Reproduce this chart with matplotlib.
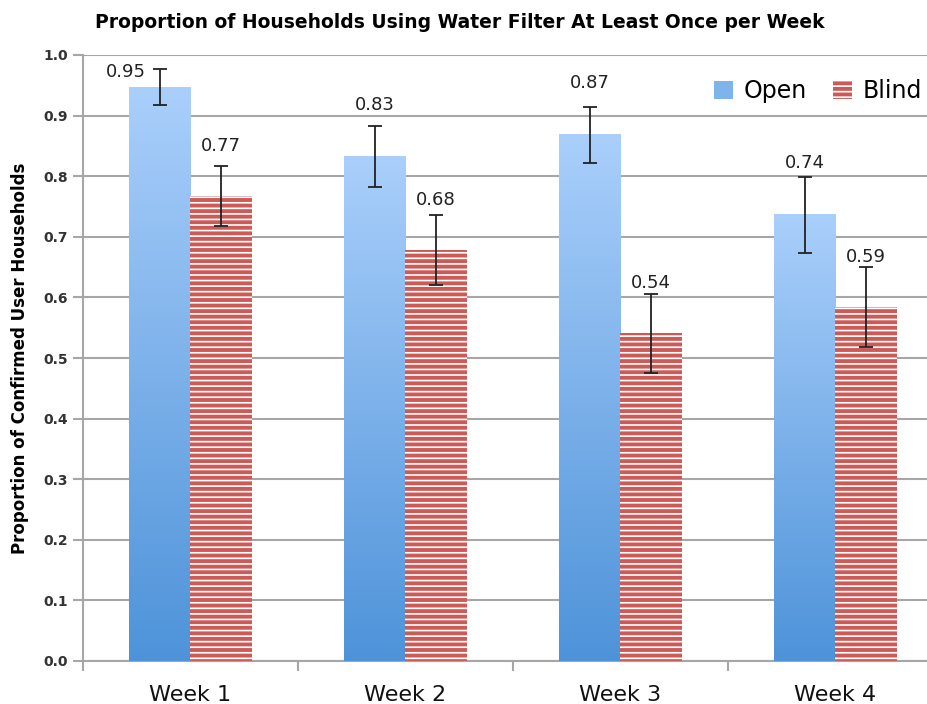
import numpy as np
import matplotlib
matplotlib.use("Agg")
import matplotlib.pyplot as plt
from matplotlib.colors import LinearSegmentedColormap
from matplotlib.patches import Patch

# Dati
weeks = ["Week 1", "Week 2", "Week 3", "Week 4"]
open_values = [0.947, 0.833, 0.868, 0.736]
blind_values = [0.767, 0.678, 0.541, 0.584]
open_errors = [0.030, 0.050, 0.046, 0.062]
blind_errors = [0.050, 0.058, 0.065, 0.066]
open_labels = ["0.95", "0.83", "0.87", "0.74"]
blind_labels = ["0.77", "0.68", "0.54", "0.59"]

BAR_W = 0.284
RED = "#cc5b58"
GRID = "#a6a6a6"


def draw_gradient_bar(ax, x, height, width, cmap):
    """Disegna una barra con gradiente verticale."""
    grad = np.linspace(1, 0, 256).reshape(-1, 1)
    ax.imshow(grad, extent=(x - width / 2, x + width / 2, 0, height),
              aspect="auto", cmap=cmap, origin="upper", zorder=3)


def main():
    plt.rcParams["font.family"] = ["DejaVu Sans"]
    plt.rcParams["hatch.linewidth"] = 1.2

    fig = plt.figure(figsize=(9.28, 7.04), dpi=100)
    ax = fig.add_axes([83 / 928, 43 / 704, 860 / 928, 606 / 704])

    x = np.arange(len(weeks))
    blue = LinearSegmentedColormap.from_list("blue", ["#4e93d9", "#aacffb"])

    for i in x:
        draw_gradient_bar(ax, i - BAR_W / 2, open_values[i], BAR_W, blue)

    ax.bar(x + BAR_W / 2, blind_values, BAR_W, color=RED, edgecolor="white",
           hatch="---", linewidth=0, zorder=3)

    ax.errorbar(x - BAR_W / 2, open_values, yerr=open_errors, fmt="none",
                ecolor="#222222", elinewidth=1.3, capsize=5, capthick=1.3, zorder=4)
    ax.errorbar(x + BAR_W / 2, blind_values, yerr=blind_errors, fmt="none",
                ecolor="#222222", elinewidth=1.3, capsize=5, capthick=1.3, zorder=4)

    # Etichette dei valori (sopra la barra, a sinistra se non c'e' spazio)
    for i in x:
        if open_values[i] + 0.085 > 0.98:
            ax.text(i - BAR_W / 2 - 0.065, open_values[i] + 0.025, open_labels[i],
                    ha="right", va="center", fontsize=13, color="#222222")
        else:
            ax.text(i - BAR_W / 2, open_values[i] + 0.085, open_labels[i],
                    ha="center", va="center", fontsize=13, color="#222222")
        ax.text(i + BAR_W / 2, blind_values[i] + 0.083, blind_labels[i],
                ha="center", va="center", fontsize=13, color="#222222")

    ax.set_xlim(-0.5, 3.5)
    ax.set_ylim(0, 1.0)
    ax.set_yticks(np.arange(0, 1.01, 0.1))
    ax.set_yticklabels([f"{v:.1f}" for v in np.arange(0, 1.01, 0.1)],
                       fontsize=10, fontweight="bold", color="#333333")
    ax.set_xticks(x)
    ax.set_xticklabels(weeks, fontsize=16, color="#111111")
    ax.set_xticks(np.arange(-0.5, 4.0, 1.0), minor=True)
    ax.tick_params(axis="x", which="major", length=0, pad=17)
    ax.tick_params(axis="x", which="minor", length=7, color=GRID, width=1.5)
    ax.tick_params(axis="y", length=7, color=GRID, width=1.5, pad=4)

    ax.grid(axis="y", color=GRID, linewidth=1.5, zorder=0)
    ax.set_axisbelow(True)
    for side in ["top", "right"]:
        ax.spines[side].set_visible(False)
    for side in ["left", "bottom"]:
        ax.spines[side].set_color(GRID)
        ax.spines[side].set_linewidth(1.5)

    ax.set_ylabel("Proportion of Confirmed User Households", fontsize=12,
                  fontweight="bold", labelpad=10)
    fig.text(0.496, 0.968, "Proportion of Households Using Water Filter At Least Once per Week",
             ha="center", va="center", fontsize=13.5, fontweight="bold")

    handles = [Patch(facecolor="#7fb3ec", edgecolor="none"),
               Patch(facecolor=RED, edgecolor="white", hatch="---", linewidth=0)]
    ax.legend(handles, ["Open", "Blind"], ncol=2, frameon=False, fontsize=17,
              loc="center right", bbox_to_anchor=(922 / 928, 0.8705),
              bbox_transform=fig.transFigure, borderaxespad=0, borderpad=0,
              handlelength=0.8, handleheight=0.8, handletextpad=0.45,
              columnspacing=1.1)

    fig.savefig("out.png", dpi=100)


if __name__ == "__main__":
    main()
